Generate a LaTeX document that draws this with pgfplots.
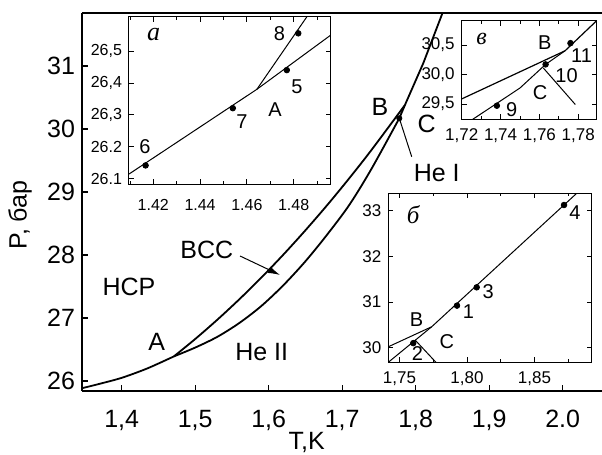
\documentclass[border=0pt]{standalone}
\usepackage{pgfplots}
\pgfplotsset{compat=1.18}
\usetikzlibrary{arrows.meta}
\usepackage{fontspec}
\setmainfont{Liberation Sans}
\newfontfamily\serif{Liberation Serif}
\newcommand\bigf{\fontsize{12.5}{14}\selectfont}
\newcommand\midf{\fontsize{10}{12}\selectfont}
\begin{document}
\begin{tikzpicture}
% canvas 602x455 px at 0.5pt per px, origin at the main axis' lower left corner
\path[use as bounding box] (-41pt,-32pt) rectangle (260pt,195.5pt);

% main phase diagram
\begin{axis}[
  name=main, at={(0pt,0pt)}, anchor=south west,
  scale only axis, width=260pt, height=189pt,
  xmin=1.346, xmax=2.0535, ymin=25.841, ymax=31.841,
  axis x line*=box, axis y line*=left,
  axis line style={line width=1pt,-},
  x axis line style={-}, y axis line style={-},
  xtick={1.4,1.5,1.6,1.7,1.8,1.9,2.0},
  xticklabels={{1,4},{1,5},{1,6},{1,7},{1,8},{1,9},{2.0}},
  ytick={26,27,28,29,30,31},
  yticklabels={26,27,28,29,30,31},
  xtick pos=bottom, ytick pos=left,
  tick align=inside, major tick length=3pt,
  tick style={line width=0.6pt,black},
  ticklabel style={font=\bigf},
  xticklabel style={yshift=-6pt},
  clip=false,
]
\addplot[line width=0.9pt, smooth] coordinates {
  (1.346,25.885) (1.37,25.955) (1.40,26.05) (1.435,26.2) (1.471,26.39)};
% HCP boundary, A to B and on to the top
\addplot[line width=0.9pt, smooth] coordinates {
  (1.471,26.39) (1.50,26.666) (1.53,26.971) (1.56,27.296) (1.59,27.641)
  (1.62,28.006) (1.65,28.392) (1.68,28.797) (1.71,29.223) (1.74,29.669) (1.7854,30.381)};
\addplot[line width=0.9pt] coordinates {
  (1.7854,30.381) (1.8103,31.043) (1.8365,31.841)};
% BCC / He II boundary
\addplot[line width=0.9pt, smooth] coordinates {
  (1.471,26.39) (1.50,26.53) (1.53,26.70) (1.56,26.92) (1.59,27.19) (1.62,27.52)
  (1.65,27.90) (1.68,28.33) (1.71,28.80) (1.74,29.37) (1.7777,30.17)};
\addplot[line width=0.9pt] coordinates {(1.7777,30.17) (1.7854,30.381)};
\addplot[line width=0.5pt] coordinates {(1.7777,30.17) (1.7946,29.56)};
\addplot[only marks, mark=*, mark size=1.3pt] coordinates {(1.7777,30.17)};
\draw[line width=0.5pt,-{Latex[length=6pt,width=3.5pt]}]
  (axis cs:1.561,27.984) -- (axis cs:1.6154,27.683);
\node[font=\bigf] at (axis cs:1.4099,27.49) {HCP};
\node[font=\bigf] at (axis cs:1.5157,28.08) {BCC};
\node[font=\bigf] at (axis cs:1.4476,26.624) {A};
\node[font=\bigf] at (axis cs:1.5905,26.465) {He II};
\node[font=\bigf] at (axis cs:1.7514,30.354) {B};
\node[font=\bigf] at (axis cs:1.815,30.08) {C};
\node[font=\bigf] at (axis cs:1.8286,29.297) {He I};
\node[font=\bigf, rotate=90] at (axis cs:1.2616,28.635) {P, бар};
\node[font=\bigf] at (axis cs:1.6517,25.02) {T,K};
\end{axis}

% inset a: point A
\begin{axis}[
  at={(main.south west)}, anchor=south west, xshift=23.5pt, yshift=103.35pt,
  scale only axis, width=101pt, height=83.8pt,
  xmin=1.4096, xmax=1.496, ymin=26.083, ymax=26.607,
  xtick={1.42,1.44,1.46,1.48}, xticklabels={1.42,1.44,1.46,1.48},
  minor xtick={1.41,1.43,1.45,1.47,1.49},
  ytick={26.1,26.2,26.3,26.4,26.5},
  yticklabels={26.1,26.2,{26,3},{26,4},{26,5}},
  tick align=inside, major tick length=2.5pt, minor tick length=1.5pt,
  tick style={line width=0.4pt,black},
  axis line style={line width=0.5pt},
  ticklabel style={font=\fontsize{8}{9}\selectfont},
  xticklabel style={yshift=-4pt},
  axis background/.style={fill=white},
]
\addplot[line width=0.5pt] coordinates {(1.4096,26.115) (1.4643,26.38) (1.496,26.55)};
\addplot[line width=0.5pt] coordinates {(1.4643,26.38) (1.4857,26.607)};
\addplot[only marks, mark=*, mark size=1.4pt] coordinates {
  (1.4167,26.142) (1.454,26.321) (1.4771,26.44) (1.482,26.555)};
\node[font=\serif\itshape\fontsize{13}{14}\selectfont] at (axis cs:1.4201,26.55) {а};
\node[font=\midf] at (axis cs:1.474,26.555) {8};
\node[font=\midf] at (axis cs:1.4814,26.387) {5};
\node[font=\midf] at (axis cs:1.4721,26.316) {A};
\node[font=\midf] at (axis cs:1.4579,26.279) {7};
\node[font=\midf] at (axis cs:1.4164,26.201) {6};
\end{axis}

% inset v: points B and C
\begin{axis}[
  at={(main.south west)}, anchor=south west, xshift=189.85pt, yshift=135.85pt,
  scale only axis, width=67.5pt, height=49.3pt,
  xmin=1.72, xmax=1.7895, ymin=29.24, ymax=30.91,
  xtick={1.72,1.74,1.76,1.78}, xticklabels={{1,72},{1,74},{1,76},{1,78}},
  minor xtick={1.73,1.75,1.77},
  ytick={29.5,30,30.5}, yticklabels={{29,5},{30,0},{30,5}},
  tick align=inside, major tick length=2.5pt, minor tick length=1.5pt,
  tick style={line width=0.4pt,black},
  axis line style={line width=0.5pt},
  ticklabel style={font=\fontsize{8.5}{9}\selectfont},
  xticklabel style={yshift=-1pt},
  axis background/.style={fill=white},
]
\addplot[line width=0.6pt] coordinates {(1.72,29.585) (1.7732,30.40) (1.7895,30.91)};
\addplot[line width=0.5pt] coordinates {(1.7257,29.24) (1.75,29.77) (1.7632,30.17) (1.7732,30.40)};
\addplot[line width=0.5pt] coordinates {(1.762,30.11) (1.7785,29.49)};
\addplot[only marks, mark=*, mark size=1.4pt] coordinates {
  (1.7381,29.47) (1.7632,30.17) (1.776,30.53)};
\node[font=\serif\itshape\fontsize{12}{14}\selectfont] at (axis cs:1.7303,30.593) {в};
\node[font=\midf] at (axis cs:1.7628,30.547) {B};
\node[font=\midf] at (axis cs:1.7817,30.322) {11};
\node[font=\midf] at (axis cs:1.774,29.983) {10};
\node[font=\midf] at (axis cs:1.7603,29.70) {C};
\node[font=\midf] at (axis cs:1.7457,29.407) {9};
\end{axis}

% inset b: above B
\begin{axis}[
  at={(main.south west)}, anchor=south west, xshift=153.15pt, yshift=14.35pt,
  scale only axis, width=101.7pt, height=84.5pt,
  xmin=1.7417, xmax=1.8924, ymin=29.681, ymax=33.376,
  xtick={1.75,1.8,1.85}, xticklabels={{1,75},{1,80},{1,85}},
  minor xtick={1.775,1.825,1.875},
  ytick={30,31,32,33}, yticklabels={30,31,32,33},
  tick align=inside, major tick length=2.5pt, minor tick length=1.5pt,
  tick style={line width=0.4pt,black},
  axis line style={line width=0.5pt},
  ticklabel style={font=\fontsize{8.5}{9}\selectfont},
  xticklabel style={yshift=-1pt},
  axis background/.style={fill=white},
]
\addplot[line width=0.5pt] coordinates {(1.7417,30.02) (1.7739,30.459)};
\addplot[line width=0.5pt] coordinates {(1.7739,30.459) (1.8813,33.376)};
\addplot[line width=0.5pt] coordinates {(1.7417,29.681) (1.7739,30.459)};
\addplot[line width=0.5pt] coordinates {(1.7615,30.17) (1.777,29.681)};
\addplot[only marks, mark=*, mark size=1.4pt] coordinates {
  (1.7926,30.92) (1.7602,30.10) (1.8072,31.32) (1.8719,33.12)};
\node[font=\serif\itshape\fontsize{12.5}{14}\selectfont] at (axis cs:1.7602,32.902) {б};
\node[font=\midf] at (axis cs:1.88,32.95) {4};
\node[font=\midf] at (axis cs:1.8158,31.225) {3};
\node[font=\midf] at (axis cs:1.801,30.787) {1};
\node[font=\midf] at (axis cs:1.7627,30.606) {B};
\node[font=\midf] at (axis cs:1.785,30.131) {C};
\node[font=\midf] at (axis cs:1.7632,29.862) {2};
\end{axis}
\end{tikzpicture}
\end{document}
